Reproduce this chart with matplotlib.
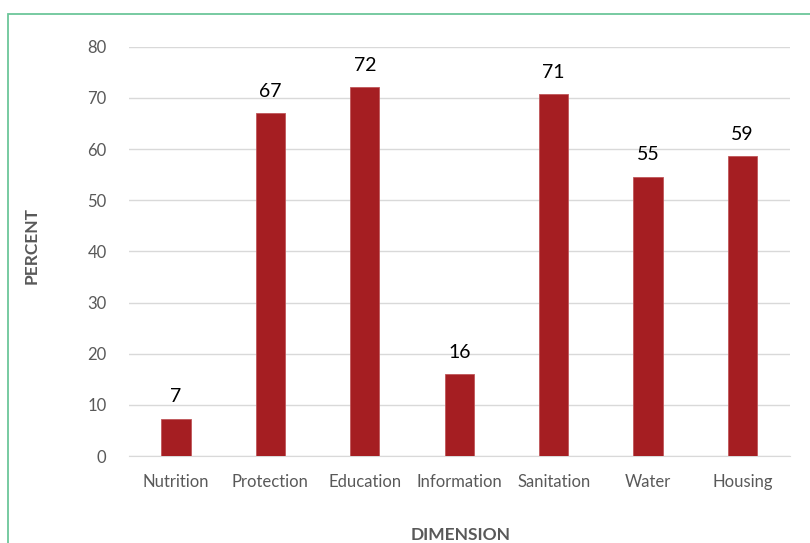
import matplotlib.pyplot as plt
from matplotlib.patches import Rectangle

categories = ["Nutrition", "Protection", "Education", "Information", "Sanitation", "Water", "Housing"]
percent = [7.3, 67.0, 72.1, 16.0, 70.7, 54.6, 58.6]
y_ticks = [0, 10, 20, 30, 40, 50, 60, 70, 80]

plt.rcParams['font.family'] = ['Lato', 'DejaVu Sans']

fig = plt.figure(figsize=(8.1, 5.43), dpi=100)
ax = fig.add_axes([0.159, 0.160, 0.816, 0.754])

# green frame around the chart area
fig.patches.append(Rectangle((8 / 810, -0.05), 1.0, (543 - 13.5) / 543 + 0.05,
                             transform=fig.transFigure, fill=False,
                             edgecolor='#6cc69a', linewidth=1.3, zorder=0))

x = range(len(categories))
bars = ax.bar(x, percent, width=0.31, color='#a51e22', edgecolor='#c0575a',
              linewidth=0.6, zorder=3)

for b, v in zip(bars, percent):
    ax.text(b.get_x() + b.get_width() / 2, v + 2.6, f"{v:.0f}",
            ha='center', va='bottom', fontsize=14, color='black')

ax.set_xlim(-0.5, len(categories) - 0.5)
ax.set_ylim(0, 80)
ax.set_yticks(y_ticks)
ax.set_xticks(list(x))
ax.set_xticklabels(categories)
ax.tick_params(axis='both', length=0, labelsize=12, colors='#595959')
ax.tick_params(axis='y', pad=16)
ax.tick_params(axis='x', pad=13)

ax.grid(axis='y', color='#d9d9d9', linewidth=1.0, zorder=0)
for s in ['top', 'right', 'left']:
    ax.spines[s].set_visible(False)
ax.spines['bottom'].set_color('#d9d9d9')

fig.text(32 / 810, 1 - 245 / 543, "PERCENT", rotation=90, ha='center', va='center',
         fontsize=12.5, fontweight='bold', color='#595959')
fig.text(461 / 810, 1 - 535 / 543, "DIMENSION", ha='center', va='center',
         fontsize=12.5, fontweight='bold', color='#595959')

fig.savefig("out.png", dpi=100)
